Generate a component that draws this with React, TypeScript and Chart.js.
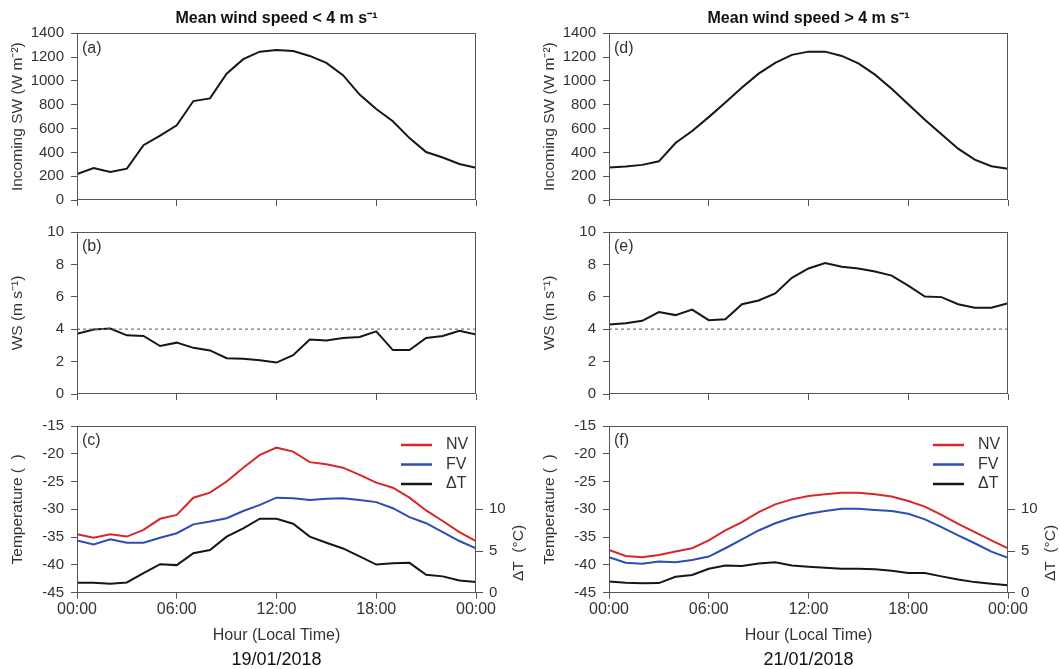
import React, { useEffect, useRef } from 'react';
import { Chart, registerables } from 'chart.js';

Chart.register(...registerables);

// ---------- data ----------
const HOURS = [0, 1, 2, 3, 4, 5, 6, 7, 8, 9, 10, 11, 12, 13, 14, 15, 16, 17, 18, 19, 20, 21, 22, 23, 24];
const X_TICK_LABELS = ['00:00', '06:00', '12:00', '18:00', '00:00'];

const SW_LOW = [217, 268, 236, 263, 460, 540, 628, 831, 853, 1061, 1183, 1246, 1259, 1251, 1210, 1151, 1048, 885, 764, 661, 520, 403, 357, 303, 271];
const SW_HIGH = [273, 282, 295, 325, 479, 580, 696, 818, 945, 1061, 1151, 1219, 1246, 1246, 1210, 1148, 1053, 934, 804, 674, 552, 431, 339, 284, 263];

const WS_LOW = [3.71, 3.98, 4.04, 3.62, 3.58, 2.96, 3.17, 2.85, 2.69, 2.21, 2.17, 2.08, 1.94, 2.4, 3.37, 3.31, 3.46, 3.52, 3.87, 2.71, 2.71, 3.46, 3.58, 3.9, 3.67];
const WS_HIGH = [4.29, 4.37, 4.52, 5.06, 4.87, 5.21, 4.56, 4.62, 5.54, 5.77, 6.21, 7.17, 7.75, 8.08, 7.85, 7.75, 7.56, 7.31, 6.69, 6.02, 5.98, 5.54, 5.33, 5.33, 5.6];
const WS_THRESHOLD = 4;

const NV_LOW = [-34.5, -35.1, -34.5, -34.9, -33.7, -31.7, -31.0, -27.9, -27.0, -25.0, -22.5, -20.2, -18.9, -19.6, -21.5, -21.9, -22.5, -23.8, -25.2, -26.1, -27.9, -30.2, -32.1, -34.1, -35.7];
const FV_LOW = [-35.6, -36.3, -35.4, -36.0, -36.0, -35.1, -34.3, -32.7, -32.2, -31.6, -30.3, -29.2, -27.9, -28.0, -28.3, -28.1, -28.0, -28.3, -28.7, -29.8, -31.4, -32.5, -34.1, -35.7, -37.0];
const DT_LOW = [1.19, 1.19, 1.08, 1.23, 2.35, 3.42, 3.31, 4.73, 5.12, 6.73, 7.73, 8.88, 8.88, 8.27, 6.73, 6.0, 5.31, 4.35, 3.38, 3.54, 3.58, 2.15, 1.96, 1.46, 1.27];

const NV_HIGH = [-37.3, -38.4, -38.6, -38.2, -37.6, -37.0, -35.6, -33.8, -32.3, -30.5, -29.1, -28.2, -27.6, -27.3, -27.0, -27.0, -27.3, -27.7, -28.5, -29.5, -31.0, -32.6, -34.1, -35.6, -37.0];
const FV_HIGH = [-38.6, -39.6, -39.8, -39.4, -39.5, -39.1, -38.5, -37.0, -35.4, -33.8, -32.5, -31.5, -30.8, -30.3, -29.9, -29.9, -30.1, -30.3, -30.8, -31.8, -33.2, -34.7, -36.1, -37.6, -38.7];
const DT_HIGH = [1.35, 1.19, 1.12, 1.15, 1.92, 2.12, 2.88, 3.27, 3.19, 3.5, 3.65, 3.27, 3.12, 3.0, 2.88, 2.88, 2.81, 2.62, 2.35, 2.35, 1.96, 1.58, 1.27, 1.08, 0.88];
const DT_TICKS = [0, 5, 10];

const COLUMN_TITLES = ['Mean wind speed < 4 m s\u207B\u00B9', 'Mean wind speed > 4 m s\u207B\u00B9'];
const DATES = ['19/01/2018', '21/01/2018'];
const PANEL_LABELS = [['(a)', '(b)', '(c)'], ['(d)', '(e)', '(f)']];
const SERIES_NAMES = ['NV', 'FV', '\u0394T'];

// ---------- style ----------
const FONT = '"Liberation Sans", Arial, Helvetica, sans-serif';
const TEXT = '#333333';
const AXIS = '#555555';
const CURVE = '#161616';
const RED = '#d8262c';
const BLUE = '#2c4db5';

Chart.defaults.font.family = FONT;
Chart.defaults.color = TEXT;

const plainNumber = (v: number | string) => String(v);

const decorPlugin = {
  id: 'decor',
  afterDatasetsDraw(chart: any, _args: any, opts: any) {
    const { ctx, chartArea: a } = chart;
    ctx.save();
    ctx.strokeStyle = AXIS;
    ctx.lineWidth = 1;
    const l = Math.round(a.left) + 0.5;
    const t = Math.round(a.top) + 0.5;
    const r = Math.round(a.right) - 0.5;
    const b = Math.round(a.bottom) - 0.5;
    ctx.strokeRect(l, t, r - l, b - t);

    ctx.fillStyle = TEXT;
    ctx.font = `16px ${FONT}`;
    ctx.textAlign = 'left';
    ctx.textBaseline = 'middle';
    if (opts.label) ctx.fillText(opts.label, a.left + 5, a.top + 15);

    if (opts.legend) {
      const ds = chart.data.datasets.filter((d: any) => SERIES_NAMES.includes(d.label));
      ds.forEach((d: any, i: number) => {
        const y = a.top + 19 + i * 19.5;
        ctx.strokeStyle = d.borderColor;
        ctx.lineWidth = 2.5;
        ctx.beginPath();
        ctx.moveTo(a.right - 75, y);
        ctx.lineTo(a.right - 44, y);
        ctx.stroke();
        ctx.fillStyle = TEXT;
        ctx.font = `16px ${FONT}`;
        ctx.fillText(d.label, a.right - 30, y);
      });
    }

    if (opts.rightTitle) {
      const y2 = chart.scales.y2;
      const cy = y2.getPixelForValue(5) + 2;
      ctx.translate(a.right + 43, cy);
      ctx.rotate(-Math.PI / 2);
      ctx.textAlign = 'center';
      ctx.fillStyle = TEXT;
      ctx.font = `15.5px ${FONT}`;
      ctx.fillText(opts.rightTitle, 0, 0);
    }
    ctx.restore();
  },
};

function xScale(showLabels: boolean, height: number) {
  return {
    type: 'linear',
    min: 0,
    max: 24,
    ticks: {
      stepSize: 6,
      display: showLabels,
      padding: 1,
      color: TEXT,
      autoSkip: false,
      maxRotation: 0,
      font: { size: 16 },
      callback: (v: number) => X_TICK_LABELS[Math.round(v / 6)],
    },
    grid: { drawOnChartArea: false, drawTicks: true, tickLength: 6, color: AXIS },
    border: { display: false },
    title: showLabels
      ? { display: true, text: 'Hour (Local Time)', color: TEXT, font: { size: 16 }, padding: { top: 0, bottom: 5.4 } }
      : { display: false },
    afterFit: (s: any) => {
      s.height = height;
    },
  };
}

function yScale(min: number, max: number, step: number, title: string) {
  return {
    type: 'linear',
    position: 'left',
    min,
    max,
    ticks: { stepSize: step, padding: 7, color: TEXT, font: { size: 15 }, callback: plainNumber },
    grid: { drawOnChartArea: false, tickLength: 6, color: AXIS },
    border: { display: false },
    title: { display: true, text: title, color: TEXT, font: { size: 15.5 }, padding: { top: 8, bottom: 0 } },
    afterFit: (s: any) => {
      s.width = 77;
    },
  };
}

const pts = (vals: number[]) => HOURS.map((h, i) => ({ x: h, y: vals[i] }));

function line(label: string, vals: number[], color: string, extra: any = {}) {
  return {
    label,
    data: pts(vals),
    borderColor: color,
    backgroundColor: color,
    borderWidth: 2,
    pointRadius: 0,
    tension: 0,
    fill: false,
    ...extra,
  };
}

function swConfig(col: number) {
  const vals = col === 0 ? SW_LOW : SW_HIGH;
  return {
    type: 'line',
    data: { datasets: [line('Incoming SW', vals, CURVE)] },
    plugins: [decorPlugin],
    options: {
      animation: false,
      responsive: false,
      maintainAspectRatio: false,
      layout: { padding: { left: 0, right: 52, top: 0, bottom: 0 } },
      scales: {
        x: xScale(false, 10.3),
        y: yScale(0, 1400, 200, 'Incoming SW (W m\u207B\u00B2)'),
      },
      plugins: {
        legend: { display: false },
        tooltip: { enabled: false },
        title: {
          display: true,
          text: COLUMN_TITLES[col],
          fullSize: false,
          color: '#111111',
          font: { size: 16, weight: 'bold', lineHeight: 1.2 },
          padding: { top: 9, bottom: 5.1 },
        },
        decor: { label: PANEL_LABELS[col][0] },
      },
    },
  };
}

function wsConfig(col: number) {
  const vals = col === 0 ? WS_LOW : WS_HIGH;
  return {
    type: 'line',
    data: {
      datasets: [
        line('4 m/s', HOURS.map(() => WS_THRESHOLD), '#777777', { borderWidth: 1.3, borderDash: [3, 3] }),
        line('WS', vals, CURVE),
      ],
    },
    plugins: [decorPlugin],
    options: {
      animation: false,
      responsive: false,
      maintainAspectRatio: false,
      layout: { padding: { left: 0, right: 52, top: 10, bottom: 0 } },
      scales: {
        x: xScale(false, 10.7),
        y: yScale(0, 10, 2, 'WS (m s\u207B\u00B9)'),
      },
      plugins: {
        legend: { display: false },
        tooltip: { enabled: false },
        decor: { label: PANEL_LABELS[col][1] },
      },
    },
  };
}

function tConfig(col: number) {
  const nv = col === 0 ? NV_LOW : NV_HIGH;
  const fv = col === 0 ? FV_LOW : FV_HIGH;
  const dt = col === 0 ? DT_LOW : DT_HIGH;
  return {
    type: 'line',
    data: {
      datasets: [
        line(SERIES_NAMES[0], nv, RED, { yAxisID: 'y' }),
        line(SERIES_NAMES[1], fv, BLUE, { yAxisID: 'y' }),
        line(SERIES_NAMES[2], dt, CURVE, { yAxisID: 'y2' }),
      ],
    },
    plugins: [decorPlugin],
    options: {
      animation: false,
      responsive: false,
      maintainAspectRatio: false,
      layout: { padding: { left: 0, right: 0, top: 10, bottom: 0 } },
      scales: {
        x: xScale(true, 58.3),
        y: yScale(-45, -15, 5, 'Temperature (  )'),
        y2: {
          type: 'linear',
          position: 'right',
          min: 0,
          max: 20,
          afterBuildTicks: (s: any) => {
            s.ticks = DT_TICKS.map((v) => ({ value: v }));
          },
          ticks: { padding: 6, color: TEXT, font: { size: 15 }, callback: plainNumber },
          grid: { drawOnChartArea: false, tickLength: 7, color: AXIS },
          border: { display: false },
          afterFit: (s: any) => {
            s.width = 52;
          },
        },
      },
      plugins: {
        legend: { display: false },
        tooltip: { enabled: false },
        subtitle: {
          display: true,
          position: 'bottom',
          text: DATES[col],
          fullSize: false,
          color: '#111111',
          font: { size: 18, lineHeight: 1 },
          padding: 0,
        },
        decor: { label: PANEL_LABELS[col][2], legend: true, rightTitle: '\u0394T  (\u00B0C)' },
      },
    },
  };
}

function Panel({ left, top, width, height, make }: { left: number; top: number; width: number; height: number; make: () => any }) {
  const ref = useRef<HTMLCanvasElement>(null);
  useEffect(() => {
    if (!ref.current) return;
    const chart = new Chart(ref.current, make());
    return () => chart.destroy();
  }, []);
  return (
    <canvas
      ref={ref}
      width={width}
      height={height}
      style={{ position: 'absolute', left, top, width, height, display: 'block' }}
    />
  );
}

const COLUMN_LEFT = [0, 532];

export default function App() {
  return (
    <div style={{ position: 'fixed', left: 0, top: 0, width: 1060, height: 669, background: '#ffffff', overflow: 'hidden' }}>
      {COLUMN_LEFT.map((x, col) => (
        <React.Fragment key={col}>
          <Panel left={x} top={0} width={528} height={216} make={() => swConfig(col)} />
          <Panel left={x} top={216} width={528} height={194} make={() => wsConfig(col)} />
          <Panel left={x} top={410} width={528} height={259} make={() => tConfig(col)} />
        </React.Fragment>
      ))}
    </div>
  );
}
